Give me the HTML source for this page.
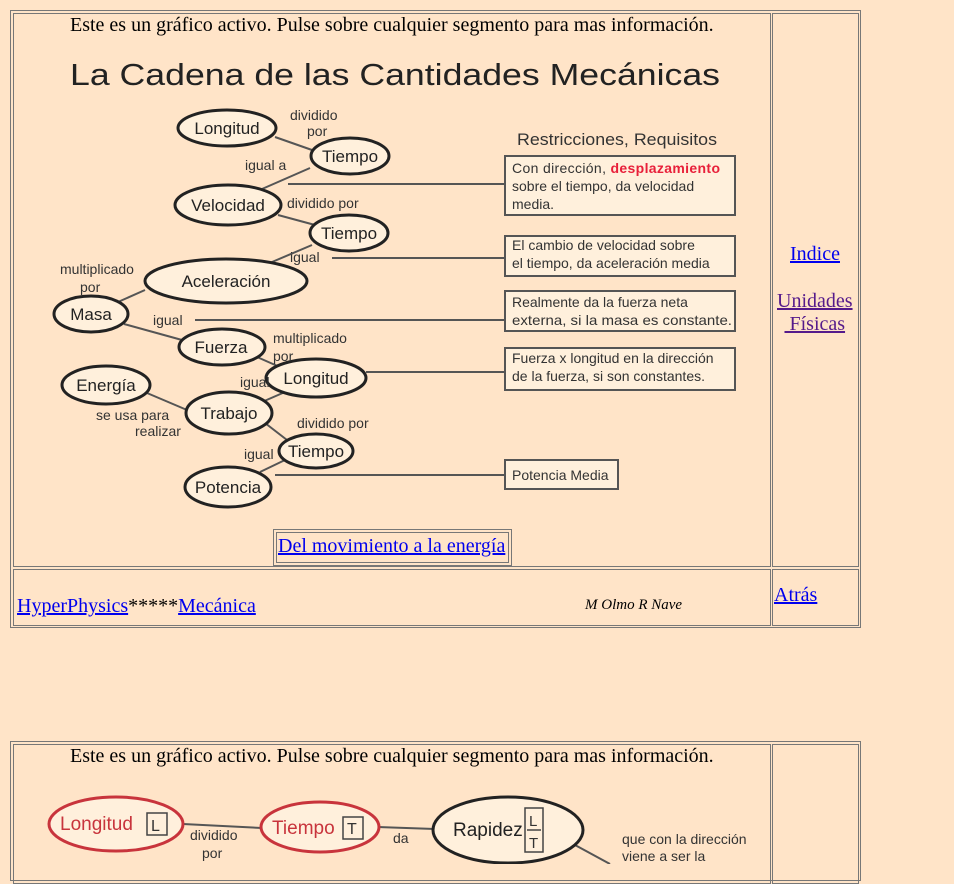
<!DOCTYPE html>
<html><head><meta charset="utf-8">
<style>
body{margin:0;background:#ffe4c8;font-family:"Liberation Serif",serif;width:954px;height:864px;overflow:hidden;position:relative}
.b{position:absolute;border:1px solid #777;box-sizing:border-box}
.t{position:absolute;white-space:nowrap}
a{color:#0000ee}
a.v{color:#551a8b}
svg text{font-family:"Liberation Sans",sans-serif}
</style></head><body>
<!-- table 1 -->
<div class="b" style="left:10px;top:10px;width:851px;height:618px"></div>
<div class="b" style="left:13px;top:13px;width:758px;height:554px"></div>
<div class="b" style="left:772px;top:13px;width:87px;height:554px"></div>
<div class="b" style="left:13px;top:569px;width:758px;height:57px"></div>
<div class="b" style="left:772px;top:569px;width:87px;height:57px"></div>
<div class="t" style="left:70px;top:14px;font-size:20px">Este es un gráfico activo. Pulse sobre cualquier segmento para mas información.</div>
<svg style="position:absolute;left:0;top:0" width="954" height="864">
<g fill="#333" font-size="14">
<text x="70" y="85" font-size="31" fill="#222" textLength="650" lengthAdjust="spacingAndGlyphs">La Cadena de las Cantidades Mecánicas</text>
<text x="517" y="145" font-size="17" textLength="200" lengthAdjust="spacingAndGlyphs">Restricciones, Requisitos</text>
</g>
<g stroke="#555" stroke-width="2" fill="none">
<line x1="275" y1="137" x2="312" y2="150"/><line x1="310" y1="168" x2="262" y2="189"/>
<line x1="278" y1="215" x2="315" y2="225"/><line x1="312" y1="245" x2="265" y2="265"/>
<line x1="145" y1="290" x2="118" y2="302"/><line x1="124" y1="324" x2="182" y2="340"/>
<line x1="257" y1="357" x2="282" y2="368"/><line x1="285" y1="392" x2="262" y2="402"/>
<line x1="147" y1="393" x2="187" y2="410"/><line x1="265" y1="423" x2="287" y2="440"/>
<line x1="285" y1="460" x2="260" y2="472"/>
<line x1="288" y1="184" x2="505" y2="184"/><line x1="332" y1="258" x2="505" y2="258"/>
<line x1="195" y1="320" x2="505" y2="320"/><line x1="366" y1="372" x2="505" y2="372"/>
<line x1="275" y1="475" x2="505" y2="475"/>
</g>
<g fill="#fff0dc" stroke="#555" stroke-width="2">
<rect x="505" y="156" width="230" height="59"/><rect x="505" y="236" width="230" height="40"/>
<rect x="505" y="291" width="230" height="40"/><rect x="505" y="348" width="230" height="42"/>
<rect x="505" y="460" width="113" height="29"/>
</g>
<g fill="#fff0dc" stroke="#222" stroke-width="3">
<ellipse cx="227" cy="128" rx="49" ry="18"/><ellipse cx="350" cy="156" rx="39" ry="18"/>
<ellipse cx="228" cy="205" rx="53" ry="20"/><ellipse cx="349" cy="233" rx="39" ry="18"/>
<ellipse cx="226" cy="281" rx="81" ry="22"/><ellipse cx="91" cy="314" rx="37" ry="18"/>
<ellipse cx="222" cy="347" rx="43" ry="18"/><ellipse cx="316" cy="378" rx="50" ry="19"/>
<ellipse cx="106" cy="385" rx="44" ry="19"/><ellipse cx="229" cy="413" rx="43" ry="21"/>
<ellipse cx="316" cy="451" rx="37" ry="17"/><ellipse cx="228" cy="487" rx="43" ry="20"/>
</g>
<g fill="#222" font-size="17" text-anchor="middle">
<text x="227" y="134">Longitud</text><text x="350" y="162">Tiempo</text>
<text x="228" y="211">Velocidad</text><text x="349" y="239">Tiempo</text>
<text x="226" y="287">Aceleración</text><text x="91" y="320">Masa</text>
<text x="221" y="353">Fuerza</text><text x="316" y="384">Longitud</text>
<text x="106" y="391">Energía</text><text x="229" y="419">Trabajo</text>
<text x="316" y="457">Tiempo</text><text x="228" y="493">Potencia</text>
</g>
<g fill="#333" font-size="14">
<text x="290" y="120">dividido</text><text x="307" y="136">por</text>
<text x="245" y="170">igual a</text><text x="287" y="208">dividido por</text>
<text x="290" y="262">igual</text>
<text x="60" y="274">multiplicado</text><text x="80" y="292">por</text>
<text x="153" y="325">igual</text>
<text x="273" y="343">multiplicado</text><text x="273" y="361">por</text>
<text x="240" y="387">igual</text>
<text x="96" y="420">se usa para</text><text x="135" y="436">realizar</text>
<text x="297" y="428">dividido por</text><text x="244" y="459">igual</text>
<text x="512" y="173" textLength="208">Con dirección, <tspan fill="#e8203a" font-weight="bold">desplazamiento</tspan></text>
<text x="512" y="191">sobre el tiempo, da velocidad</text><text x="512" y="209">media.</text>
<text x="512" y="250">El cambio de velocidad sobre</text><text x="512" y="268">el tiempo, da aceleración media</text>
<text x="512" y="307">Realmente da la fuerza neta</text><text x="512" y="325" textLength="220" lengthAdjust="spacingAndGlyphs">externa, si la masa es constante.</text>
<text x="512" y="363">Fuerza x longitud en la dirección</text><text x="512" y="381">de la fuerza, si son constantes.</text>
<text x="512" y="480">Potencia Media</text>
</g>
</svg>
<div class="b" style="left:273px;top:529px;width:239px;height:37px"></div>
<div class="b" style="left:276px;top:532px;width:233px;height:31px"></div>
<div class="t" style="left:278px;top:535px;font-size:20px"><a href="#">Del movimiento a la energía</a></div>
<div class="t" style="left:790px;top:243px;font-size:20px"><a href="#">Indice</a></div>
<div class="t" style="left:777px;top:290px;font-size:20px;text-align:center;line-height:23px"><a class="v" href="#">Unidades<br>&nbsp;Físicas</a></div>
<div class="t" style="left:17px;top:595px;font-size:20px"><a href="#">HyperPhysics</a>*****<a href="#">Mecánica</a></div>
<div class="t" style="left:585px;top:597px;font-size:15px;font-style:italic">M Olmo R Nave</div>
<div class="t" style="left:774px;top:584px;font-size:20px"><a href="#">Atrás</a></div>
<!-- table 2 -->
<div class="b" style="left:10px;top:741px;width:851px;height:140px"></div>
<div class="b" style="left:13px;top:744px;width:758px;height:140px"></div>
<div class="b" style="left:772px;top:744px;width:87px;height:140px"></div>
<div class="t" style="left:70px;top:745px;font-size:20px">Este es un gráfico activo. Pulse sobre cualquier segmento para mas información.</div>
<svg style="position:absolute;left:0;top:0" width="954" height="864">
<g stroke="#555" stroke-width="2"><line x1="183" y1="824" x2="262" y2="828"/><line x1="378" y1="827" x2="435" y2="829"/><line x1="575" y1="845" x2="610" y2="864"/></g>
<ellipse cx="116" cy="824" rx="67" ry="27" fill="#fff0dc" stroke="#c8343c" stroke-width="3"/>
<ellipse cx="320" cy="827" rx="59" ry="25" fill="#fff0dc" stroke="#c8343c" stroke-width="3"/>
<ellipse cx="508" cy="830" rx="75" ry="33" fill="#fff0dc" stroke="#222" stroke-width="3"/>
<g fill="none" stroke="#444" stroke-width="1.5"><rect x="147" y="813" width="20" height="22"/><rect x="343" y="817" width="20" height="22"/><rect x="525" y="808" width="18" height="44"/></g>
<g font-size="19"><text x="60" y="830" fill="#c8343c">Longitud</text><text x="272" y="834" fill="#c8343c">Tiempo</text><text x="453" y="836" fill="#222">Rapidez</text>
<text x="151" y="831" font-size="16" fill="#333">L</text><text x="347" y="834" font-size="16" fill="#333">T</text>
<text x="529" y="826" font-size="15" fill="#333">L</text><text x="529" y="848" font-size="15" fill="#333">T</text></g>
<line x1="527" y1="830" x2="541" y2="830" stroke="#444" stroke-width="1.5"/>
<g font-size="14" fill="#333"><text x="190" y="840">dividido</text><text x="202" y="858">por</text><text x="393" y="843">da</text>
<text x="622" y="844">que con la dirección</text><text x="622" y="861">viene a ser la</text></g>
</svg>
</body></html>
